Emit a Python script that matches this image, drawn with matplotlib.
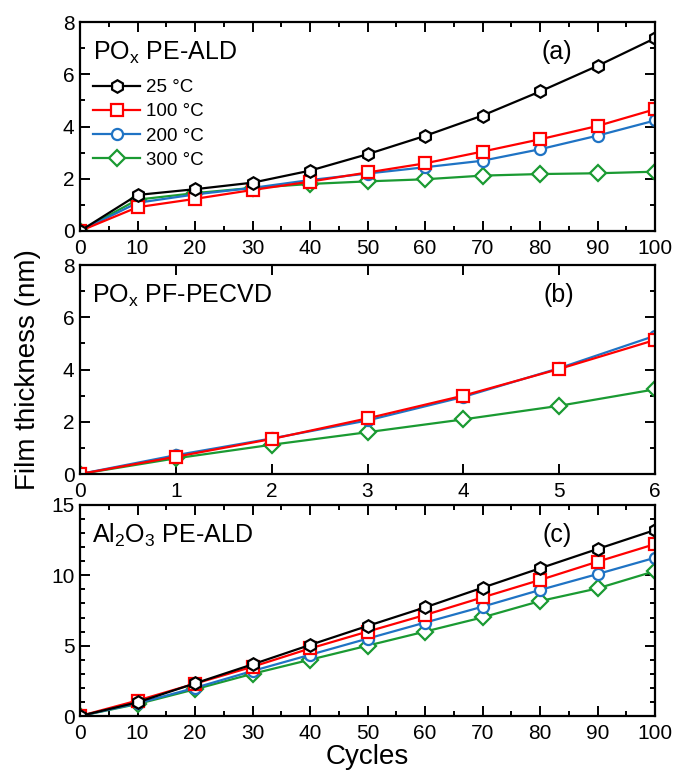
import matplotlib
matplotlib.use("Agg")
import matplotlib.pyplot as plt
from matplotlib.ticker import MultipleLocator

plt.rcParams['font.family'] = ['Liberation Sans', 'DejaVu Sans']
plt.rcParams['mathtext.fontset'] = 'custom'
plt.rcParams['mathtext.rm'] = 'Liberation Sans'
plt.rcParams['mathtext.it'] = 'Liberation Sans:italic'

# ---- data ----
labels = ['25 °C', '100 °C', '200 °C', '300 °C']
colors = ['#000000', '#ff0000', '#1f73c4', '#1a9a32']
markers = ['h', 's', 'o', 'D']

cycles_a = [0, 10, 20, 30, 40, 50, 60, 70, 80, 90, 100]
a_25 = [0, 1.38, 1.60, 1.85, 2.31, 2.94, 3.64, 4.42, 5.34, 6.32, 7.38]
a_100 = [0, 0.91, 1.23, 1.57, 1.89, 2.24, 2.59, 3.04, 3.51, 4.02, 4.66]
a_200 = [0, 1.08, 1.40, 1.65, 1.95, 2.20, 2.44, 2.69, 3.13, 3.65, 4.23]
a_300 = [0, 1.20, 1.45, 1.65, 1.80, 1.90, 1.98, 2.12, 2.18, 2.21, 2.27]

cycles_b = [0, 1, 2, 3, 4, 5, 6]
b_100 = [0, 0.66, 1.34, 2.13, 3.00, 4.02, 5.13]
b_200 = [0, 0.72, 1.36, 2.05, 2.95, 4.05, 5.29]
b_300 = [0, 0.60, 1.12, 1.60, 2.09, 2.61, 3.24]

cycles_c = [0, 10, 20, 30, 40, 50, 60, 70, 80, 90, 100]
c_25 = [0, 0.97, 2.32, 3.67, 5.05, 6.40, 7.72, 9.12, 10.50, 11.87, 13.22]
c_100 = [0, 1.10, 2.30, 3.50, 4.80, 6.00, 7.18, 8.43, 9.67, 10.97, 12.22]
c_200 = [0, 0.90, 2.00, 3.20, 4.35, 5.50, 6.64, 7.77, 8.96, 10.09, 11.25]
c_300 = [0, 0.85, 1.90, 3.00, 4.00, 5.00, 6.00, 7.01, 8.17, 9.07, 10.30]

fig = plt.figure(figsize=(6.76, 7.71), dpi=100)
L, W = 80/676, 575/676
ax_a = fig.add_axes([L, 1-231/771, W, 209/771])
ax_b = fig.add_axes([L, 1-474/771, W, 209/771])
ax_c = fig.add_axes([L, 1-716/771, W, 211/771])

def draw(ax, x, series, idx):
    handles = {}
    for ys, i in reversed(list(zip(series, idx))):
        h, = ax.plot(x, ys, color=colors[i], marker=markers[i], ms=8 if i else 9,
                     mfc='white', mec=colors[i], mew=1.6, lw=1.6, label=labels[i])
        handles[i] = h
    return [handles[i] for i in sorted(handles)]

def style(ax, xlim, ylim, xmaj, xmin, ymaj, ymin):
    ax.set_xlim(*xlim)
    ax.set_ylim(*ylim)
    ax.xaxis.set_major_locator(MultipleLocator(xmaj))
    if xmin:
        ax.xaxis.set_minor_locator(MultipleLocator(xmin))
    ax.yaxis.set_major_locator(MultipleLocator(ymaj))
    ax.yaxis.set_minor_locator(MultipleLocator(ymin))
    ax.tick_params(which='both', direction='in', top=True, right=True, labelsize=15, width=1.4)
    ax.tick_params(which='major', length=7.5)
    ax.tick_params(which='minor', length=3.5)
    ax.tick_params(axis='x', which='major', pad=6)
    ax.tick_params(axis='y', which='major', pad=4)
    for s in ax.spines.values():
        s.set_linewidth(1.6)

hs = draw(ax_a, cycles_a, [a_25, a_100, a_200, a_300], [0, 1, 2, 3])
style(ax_a, (0, 100), (0, 8), 10, 5, 2, 1)
ax_a.legend(handles=hs, loc='upper left', bbox_to_anchor=(0.0, 0.79), frameon=False,
            fontsize=13.5, handlelength=2.5, handletextpad=0.3, labelspacing=0.38,
            borderaxespad=0.3)
ax_a.text(0.022, 0.818, r'PO$_\mathrm{x}$ PE-ALD', transform=ax_a.transAxes, fontsize=18, va='baseline')
ax_a.text(0.83, 0.858, '(a)', transform=ax_a.transAxes, fontsize=18, ha='center', va='center')

draw(ax_b, cycles_b, [b_100, b_200, b_300], [1, 2, 3])
style(ax_b, (0, 6), (0, 8), 1, None, 2, 1)
ax_b.text(0.02, 0.818, r'PO$_\mathrm{x}$ PF-PECVD', transform=ax_b.transAxes, fontsize=18, va='baseline')
ax_b.text(0.832, 0.856, '(b)', transform=ax_b.transAxes, fontsize=18, ha='center', va='center')

draw(ax_c, cycles_c, [c_25, c_100, c_200, c_300], [0, 1, 2, 3])
style(ax_c, (0, 100), (0, 15), 10, 5, 5, 1)
ax_c.text(0.02, 0.82, r'Al$_\mathrm{2}$O$_\mathrm{3}$ PE-ALD', transform=ax_c.transAxes, fontsize=18, va='baseline')
ax_c.text(0.83, 0.858, '(c)', transform=ax_c.transAxes, fontsize=18, ha='center', va='center')
ax_c.set_xlabel('Cycles', fontsize=20, labelpad=0.5)

fig.text(28/676, 1-370/771, 'Film thickness (nm)', rotation=90, fontsize=20, ha='center', va='center')

fig.savefig('out.png', dpi=100)
